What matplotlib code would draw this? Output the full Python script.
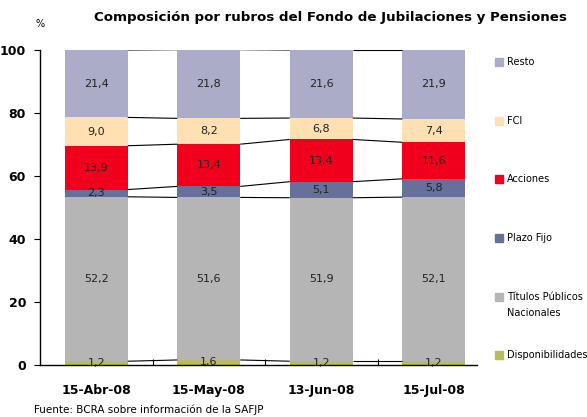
import matplotlib
matplotlib.use("Agg")
import matplotlib.pyplot as plt
import numpy as np

categories = ["15-Abr-08", "15-May-08", "13-Jun-08", "15-Jul-08"]
series_names = ["Disponibilidades", "Títulos Públicos\nNacionales", "Plazo Fijo", "Acciones", "FCI", "Resto"]
disponibilidades = [1.2, 1.6, 1.2, 1.2]
titulos = [52.2, 51.6, 51.9, 52.1]
plazo_fijo = [2.3, 3.5, 5.1, 5.8]
acciones = [13.9, 13.4, 13.4, 11.6]
fci = [9.0, 8.2, 6.8, 7.4]
resto = [21.4, 21.8, 21.6, 21.9]
yticks = [0, 20, 40, 60, 80, 100]

colors = ["#B9BC5E", "#B5B5B5", "#66709A", "#F0001C", "#FEE0B3", "#AAACC8"]
series = [disponibilidades, titulos, plazo_fijo, acciones, fci, resto]

W, H = 587, 417
fig = plt.figure(figsize=(W / 100, H / 100), dpi=100)
ax = fig.add_axes([40 / W, (H - 365) / H, (477 - 40) / W, (365 - 50) / H])

x = np.arange(len(categories))
bw = 0.56
bottom = np.zeros(len(categories))
tops = []
for vals, col in zip(series, colors):
    vals = np.array(vals)
    ax.bar(x, vals, bw, bottom=bottom, color=col, edgecolor="none", zorder=2)
    for xi, b, v in zip(x, bottom, vals):
        ax.text(xi, b + v / 2, f"{v:.1f}".replace(".", ","), ha="center", va="center",
                fontsize=8, color="#222222", zorder=4)
    bottom = bottom + vals
    tops.append(bottom.copy())

# series lines
for t in tops:
    for i in range(len(categories) - 1):
        ax.plot([x[i] + bw / 2, x[i + 1] - bw / 2], [t[i], t[i + 1]], color="black",
                lw=0.8, zorder=3, solid_capstyle="butt")

ax.set_xlim(-0.5, 3.384)
ax.set_ylim(0, 100)
ax.set_yticks(yticks)
ax.set_yticklabels([str(v) for v in yticks], fontsize=9, fontweight="bold")
ax.set_xticks(x)
ax.set_xticklabels(categories, fontsize=9, fontweight="bold")
ax.tick_params(axis="x", length=0, pad=14)
ax.set_xticks([0.5, 1.5, 2.5], minor=True)
ax.tick_params(axis="x", which="minor", length=4, direction="in", width=0.8)
ax.tick_params(axis="y", length=4, direction="out", width=0.8, pad=6)
for s in ["top", "right"]:
    ax.spines[s].set_visible(False)
ax.spines["left"].set_linewidth(1.0)
ax.spines["bottom"].set_linewidth(1.0)

fig.text(330 / W, 1 - 18 / H, "Composición por rubros del Fondo de Jubilaciones y Pensiones",
         ha="center", va="center", fontsize=9.6, fontweight="bold")
fig.text(40 / W, 1 - 24 / H, "%", ha="center", va="center", fontsize=7)
fig.text(34 / W, 1 - 410 / H, "Fuente: BCRA sobre información de la SAFJP",
         ha="left", va="center", fontsize=7.5)

# legend
leg_y = [355, 297, 238, 179, 121, 62]
for name, col, yy in zip(series_names, colors, leg_y):
    fig.patches.append(plt.Rectangle((495 / W, 1 - (yy + 4) / H), 8 / W, 8 / H,
                                     transform=fig.transFigure, color=col))
    lines = name.split("\n")
    for k, ln in enumerate(lines):
        fig.text(507 / W, 1 - (yy + 16 * k) / H, ln, ha="left", va="center", fontsize=7)

fig.savefig("out.png", dpi=100)
